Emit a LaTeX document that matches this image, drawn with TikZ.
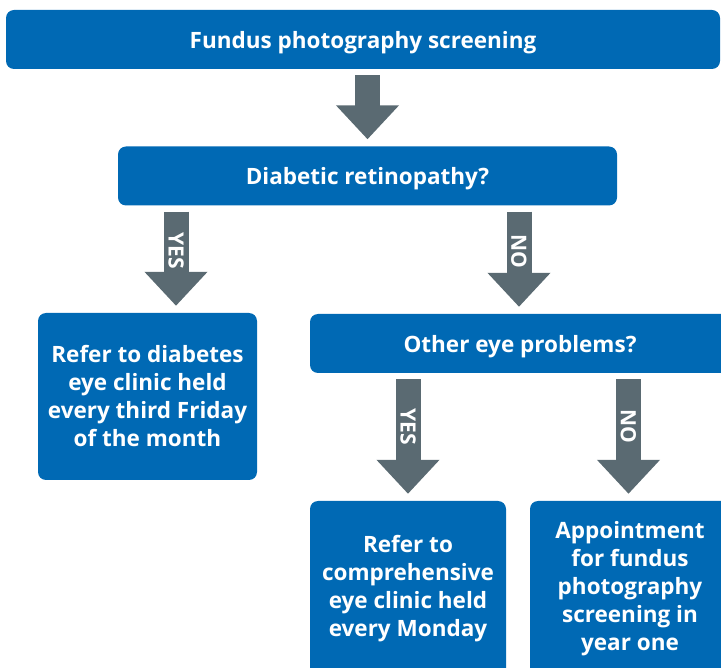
\documentclass[tikz,border=0pt]{standalone}
\usepackage{fontspec}
\setmainfont{Open Sans}
\usepackage{xcolor}
\usepackage{tikz}
\usetikzlibrary{calc}
\usetikzlibrary{arrows.meta}

\definecolor{boxblue}{HTML}{0069B4}
\definecolor{arrowgray}{HTML}{5A6A72}

\tikzset{
  stage/.style={fill=boxblue, rounded corners=8pt, text=white, align=center,
    font=\bfseries\fontsize{22.5}{28}\selectfont, inner sep=0pt},
  question/.style={stage, text depth=0pt, minimum height=59pt},
  flow/.style={arrowgray, line width=25pt, -{Triangle[width=61pt,length=34pt]},
    shorten <=6pt, shorten >=7pt},
  answer/.style={pos=0.42, rotate=-90, text=white,
    font=\bfseries\fontsize{21}{24}\selectfont}
}

\begin{document}
\begin{tikzpicture}[x=1pt,y=-1pt]
\useasboundingbox (0,0) rectangle (721,668);

% Boxes
\node[question, minimum width=714pt] (screen) at (363,39.5) {Fundus photography screening};
\node[question, minimum width=499pt] (retino) at (367.5,176) {Diabetic retinopathy?};
\node[stage, minimum width=219pt, minimum height=167pt] (diabclinic) at (147.5,396.5)
  {Refer to diabetes\\eye clinic held\\every third Friday\\of the month};
\node[question, minimum width=420pt] (other) at (520,343.5) {Other eye problems?};
\node[stage, minimum width=196pt, minimum height=175pt] (compclinic) at (408,588.5)
  {Refer to\\comprehensive\\eye clinic held\\every Monday};
\node[stage, minimum width=200pt, minimum height=175pt] (appoint) at (630,588.5)
  {Appointment\\for fundus\\photography\\screening in\\year one};

% Arrow ends
\coordinate (yesend) at ($(diabclinic.north)+(28.5,0)$);
\coordinate (noend) at ($(other.north)+(-1,0)$);
\coordinate (apptend) at ($(appoint.north)+(-1.5,0)$);

% Arrows
\draw[flow] (retino.north |- screen.south) -- (retino.north);
\draw[flow] (yesend |- retino.south) -- (yesend) node[answer] {YES};
\draw[flow] (noend |- retino.south) -- (noend) node[answer] {NO};
\draw[flow] (compclinic.north |- other.south) -- (compclinic.north) node[answer] {YES};
\draw[flow] (apptend |- other.south) -- (apptend) node[answer] {NO};
\end{tikzpicture}
\end{document}
